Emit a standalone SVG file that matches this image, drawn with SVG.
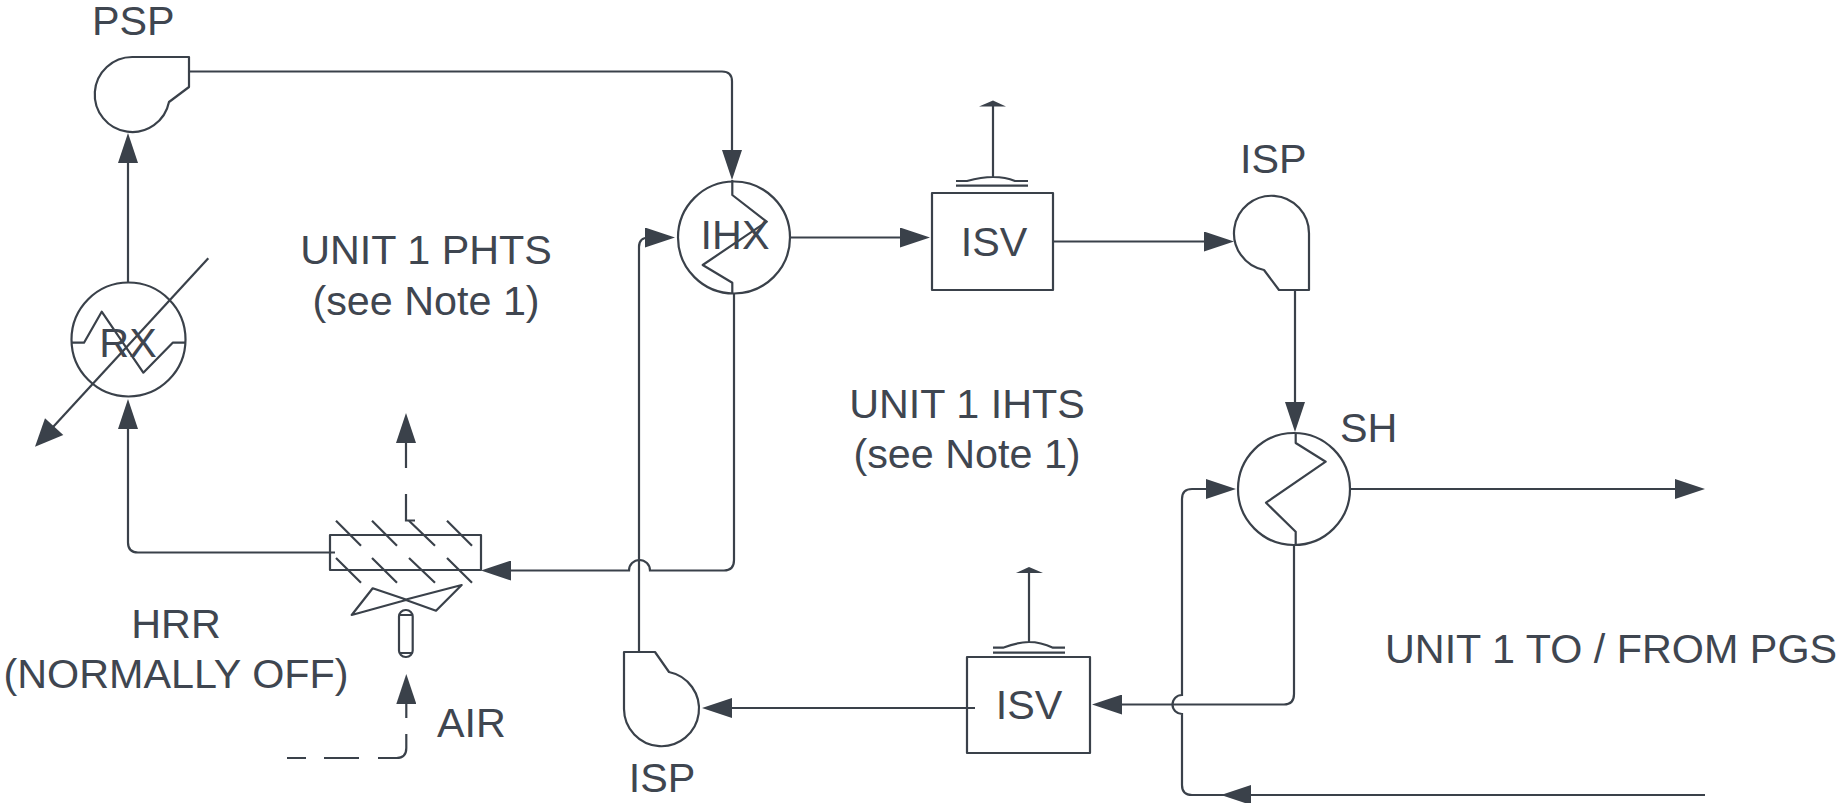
<svg xmlns="http://www.w3.org/2000/svg" width="1837" height="803" viewBox="0 0 1837 803">
<style>
.s{fill:none;stroke:#3a414a;stroke-width:2.2;stroke-linejoin:round}
.c{fill:none;stroke:#3a414a;stroke-width:2.2}
.a{marker-end:url(#arr)}
.f{fill:#3a414a;stroke:none}
text{font-family:"Liberation Sans",Arial,sans-serif;font-size:41.3px;fill:#3f4650}
.m{text-anchor:middle}
</style>
<defs>
<marker id="arr" markerUnits="userSpaceOnUse" viewBox="0 0 30 20" markerWidth="30" markerHeight="20" refX="20" refY="10" orient="auto">
<path d="M0 0L30 10L0 20Z" fill="#3a414a"/>
</marker>
</defs>
<rect width="1837" height="803" fill="#fff"/>
<g id="connectors">
<path class="c a" d="M189 71.5H722Q732 71.5 732 81.5V170"/>
<path class="c a" d="M128 282V143"/>
<path class="c a" d="M335 552.5H138Q128 552.5 128 542.5V409"/>
<path class="c" d="M208.3 258.3L48 432.5"/>
<polygon class="f" points="35,446.7 45,418.3 63.3,435"/>
<path class="c a" d="M734 293V560Q734 570.5 724 570.5H650A10.5 10.5 0 0 0 629 570.5H491"/>
<path class="c a" d="M639 652V247Q639 237.5 649 237.5H665"/>
<path class="c a" d="M790 237.5H920"/>
<path class="c a" d="M1053 241.5H1224"/>
<path class="c a" d="M1295 290V422"/>
<path class="c a" d="M1350 489H1695"/>
<path class="c a" d="M1294 545V694Q1294 704.5 1284 704.5H1102"/>
<path class="c a" d="M975 708H712"/>
<path class="c a" d="M1705 795H1231"/>
<path class="c a" d="M1240 795H1192Q1182 795 1182 785V714A9.5 9.5 0 0 1 1182 695V499Q1182 489 1192 489H1226"/>
<path class="c a" d="M415 520.5H406V494M406 468V423"/>
<path class="c" d="M287 758H306M324 758H359M378 758H396.5Q406.3 758 406.3 748V734"/>
<path class="c a" d="M406.3 718V684"/>
</g>
<g id="psp">
<path class="s" d="M132.5 57H189V87L169 102A37.5 37.5 0 1 1 132.5 57Z"/>
<text x="92" y="35">PSP</text>
</g>
<g id="rx">
<circle class="s" cx="128.5" cy="339.5" r="57"/>
<path class="s" d="M72 342.7H84L101.7 311.7L143.3 372.7L172.7 342.7H185"/>
<text class="m" x="128" y="357">RX</text>
</g>
<g id="hrr">
<rect class="s" x="330" y="535" width="151" height="35"/>
<path class="s" d="M336 520.7L361 545.7M372 520.7L397 545.7M409 520.7L435 545.7M447 520.7L472 545.7M336 558L361 582.7M372 558L397 582.7M409 558L435 582.7M447 558L472 582.7"/>
<path class="s" d="M351.7 615L372.7 588.3L406 599.5L461.7 585L436 610.7L406 600Z"/>
<rect class="s" x="399" y="610" width="13.7" height="47" rx="6.5"/>
<path class="s" d="M399 615H412.7M399 653H412.7"/>
<text class="m" x="176" y="638">HRR</text>
<text class="m" x="176" y="688">(NORMALLY OFF)</text>
</g>
<g id="ihx">
<circle class="s" cx="734" cy="237.5" r="56"/>
<path class="s" d="M732.3 180V195L766.7 221.7L702.7 265L732.3 282.7V293"/>
<text class="m" x="735" y="249">IHX</text>
</g>
<g id="isv1">
<rect class="s" x="932" y="193" width="121" height="97"/>
<path class="s" d="M956 185.7H1028M956 181H967C978 178 985 177 993 177C1001 177 1008 178 1015 181H1028M993 177V105"/>
<polygon class="f" points="979,106.5 1006,106.5 993,100.5"/>
<text class="m" x="994" y="256">ISV</text>
</g>
<g id="isp1">
<path class="s" d="M1309 233.5V290H1279L1264 270A37.5 37.5 0 1 1 1309 233.5Z"/>
<text x="1240" y="173">ISP</text>
</g>
<g id="sh">
<circle class="s" cx="1294" cy="489" r="56"/>
<path class="s" d="M1295.7 433V443L1325.7 461.7L1266 502.7L1295.7 531.7V545"/>
<text x="1340" y="442">SH</text>
</g>
<g id="isv2">
<rect class="s" x="967" y="657" width="123" height="96"/>
<path class="s" d="M993 652.7H1065M993 647.7H1003C1013 644 1021 642 1029 642C1037 642 1045 644 1053 647.7H1065M1029 642V573"/>
<polygon class="f" points="1016,573 1043,573 1029,567"/>
<text class="m" x="1029" y="719">ISV</text>
</g>
<g id="isp2">
<path class="s" d="M624 652H655L669 672A37.5 37.5 0 1 1 624 709Z"/>
<text class="m" x="662" y="792">ISP</text>
</g>
<g id="labels">
<text class="m" x="426" y="264">UNIT 1 PHTS</text>
<text class="m" x="426" y="315">(see Note 1)</text>
<text class="m" x="967" y="418">UNIT 1 IHTS</text>
<text class="m" x="967" y="468">(see Note 1)</text>
<text x="1385" y="663">UNIT 1 TO / FROM PGS</text>
<text x="437" y="737">AIR</text>
</g>
</svg>
